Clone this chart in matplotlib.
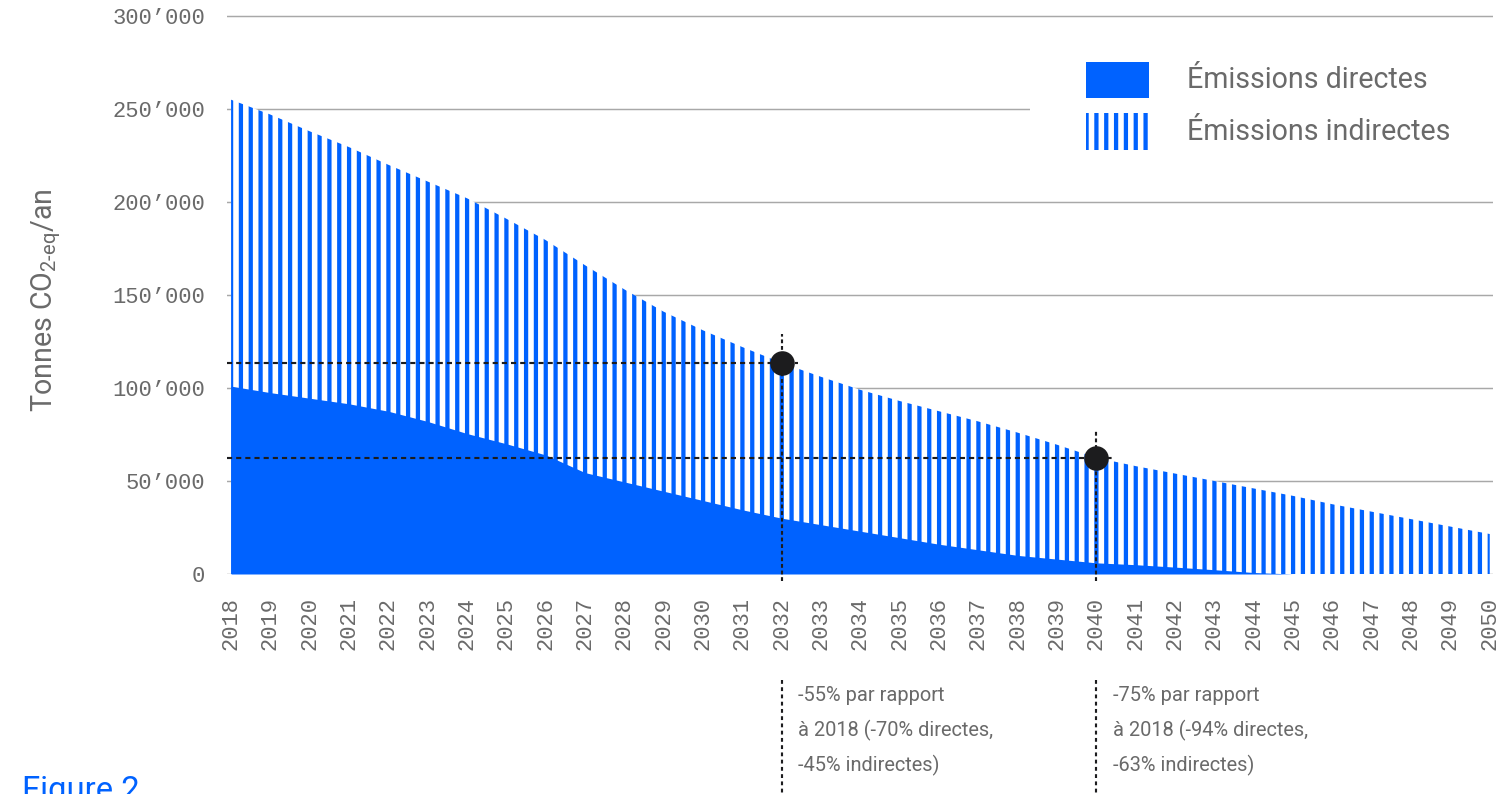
import matplotlib
matplotlib.use("Agg")
import matplotlib.pyplot as plt
import matplotlib.transforms as mtransforms
from matplotlib.patches import Rectangle

# --- data ---
years = list(range(2018, 2051))
total_emissions = [255000, 247000, 238000, 229500, 220000, 211000, 202000, 191000, 179500, 166000,
                   153000, 141000, 131000, 122000, 113500, 106000, 99000, 93000, 87500, 82000,
                   76000, 69500, 62500, 58000, 54000, 50000, 46000, 42000, 37500, 33500,
                   29500, 25500, 21500]
direct_emissions = [101000, 97500, 94500, 91500, 87500, 82000, 75500, 70000, 64000, 54500,
                    49500, 44500, 39500, 34500, 30000, 26500, 23000, 19500, 16000, 13000,
                    10000, 8000, 6000, 5000, 3700, 2300, 800, 0, 0, 0,
                    0, 0, 0]
milestone_years = [2032, 2040]
milestone_values = [113500, 62500]
milestone_notes = [
    "-55% par rapport\nà 2018 (-70% directes,\n-45% indirectes)",
    "-75% par rapport\nà 2018 (-94% directes,\n-63% indirectes)",
]
y_ticks = [0, 50000, 100000, 150000, 200000, 250000, 300000]
legend_labels = ["Émissions directes", "Émissions indirectes"]

BLUE = "#0062FF"
GREY_TXT = "#6a6a6a"
GRID = "#a8a8a8"
DOT = "#1c1c1e"

DPI = 118
W, H = 1512, 794

plt.rcParams["font.family"] = ["Roboto", "DejaVu Sans"]
plt.rcParams["hatch.linewidth"] = 2.6
plt.rcParams["hatch.color"] = BLUE
plt.rcParams["mathtext.fontset"] = "custom"
plt.rcParams["mathtext.rm"] = "Roboto"

fig = plt.figure(figsize=(W / DPI, H / DPI), dpi=DPI)

# axes placement in pixels (stripes of the hatch fall every 118/12 px)
px_2018 = 231.08
px_per_year = 39.3333
left_px, right_px = 227, 1493
y0_px, y300_px = 574, 16
x_min = 2018 - (px_2018 - left_px) / px_per_year
x_max = 2018 + (right_px - px_2018) / px_per_year
px_per_unit = (y0_px - y300_px) / 300000
top_px = 12
y_max = 300000 + (y300_px - top_px) / px_per_unit

ax = fig.add_axes([left_px / W, 1 - y0_px / H, (right_px - left_px) / W, (y0_px - top_px) / H])
ax.set_xlim(x_min, x_max)
ax.set_ylim(0, y_max)

for s in ax.spines.values():
    s.set_visible(False)

ax.set_yticks(y_ticks)
ax.set_yticklabels([f"{v:,}".replace(",", "\u2019") for v in y_ticks])
ax.set_xticks(years)
ax.set_xticklabels([str(y) for y in years], rotation=90)
ax.tick_params(axis="both", length=0, labelcolor=GREY_TXT, labelsize=13.5)
ax.tick_params(axis="y", pad=13.5)
ax.tick_params(axis="x", pad=14)
for lab in ax.get_xticklabels() + ax.get_yticklabels():
    lab.set_fontfamily("Liberation Mono")

ax.yaxis.grid(True, color=GRID, linewidth=0.9)
ax.xaxis.grid(False)
ax.set_axisbelow(True)

# indirect: white area with vertical hatch (masks the grid)
ax.fill_between(years, 0, total_emissions, facecolor="white", edgecolor=BLUE,
                hatch="||", linewidth=0, zorder=2)
# direct: solid area
ax.fill_between(years, 0, direct_emissions, color=BLUE, linewidth=0, zorder=3)

# milestone guides
for yr, val in zip(milestone_years, milestone_values):
    ax.hlines(val, x_min, yr + 0.42, colors=DOT, linewidth=1.3,
              linestyles=(0, (2.4, 1.9)), zorder=4)
ax.vlines(milestone_years[0], -3500, 129000, colors=DOT, linewidth=1.3,
          linestyles=(0, (1.8, 1.3)), zorder=4, clip_on=False)
ax.vlines(milestone_years[1], -3500, 77000, colors=DOT, linewidth=1.3,
          linestyles=(0, (1.8, 1.3)), zorder=4, clip_on=False)
ax.plot(milestone_years, milestone_values, "o", color=DOT, markersize=14, zorder=5)

# annotation boxes below the axis
trans = mtransforms.blended_transform_factory(ax.transData, fig.transFigure)
for yr, note in zip(milestone_years, milestone_notes):
    ax.plot([yr, yr], [1 - 680 / H, 0], transform=trans, color=DOT, linewidth=1.3,
            linestyle=(0, (1.8, 1.6)), clip_on=False)
    ax.text(yr + 0.42, 1 - 686 / H, note, transform=trans, ha="left", va="top",
            fontsize=12.2, color=GREY_TXT, linespacing=1.88)

# legend (drawn by hand, white panel hides part of the 250'000 line)
ax.add_patch(Rectangle((2038.3, 228000), 14, 46000, facecolor="white", edgecolor="none",
                       zorder=1.5, clip_on=False))
lx0 = 2018 + (1086 - px_2018) / px_per_year
lw = 63 / px_per_year
ax.add_patch(Rectangle((lx0, (y0_px - 98) / px_per_unit), lw, 36 / px_per_unit,
                       facecolor=BLUE, edgecolor="none", zorder=3))
ax.add_patch(Rectangle((lx0, (y0_px - 150) / px_per_unit), lw, 37 / px_per_unit,
                       facecolor="white", edgecolor=BLUE, hatch="||", linewidth=0, zorder=3))
tx = 2018 + (1187 - px_2018) / px_per_year
ax.text(tx, (y0_px - 80) / px_per_unit, legend_labels[0], ha="left", va="center",
        fontsize=17.5, color=GREY_TXT)
ax.text(tx, (y0_px - 132) / px_per_unit, legend_labels[1], ha="left", va="center",
        fontsize=17.5, color=GREY_TXT)

# axis title
fig.text(46 / W, 1 - 300 / H, r"Tonnes CO$_{\text{2-eq}}$/an", rotation=90,
         ha="center", va="center", fontsize=17.5, color=GREY_TXT)

# figure caption, cut by the bottom edge as in the original
fig.text(22 / W, 1 - 775 / H, "Figure 2", ha="left", va="top", fontsize=20, color=BLUE)

fig.savefig("out.png", dpi=DPI)
